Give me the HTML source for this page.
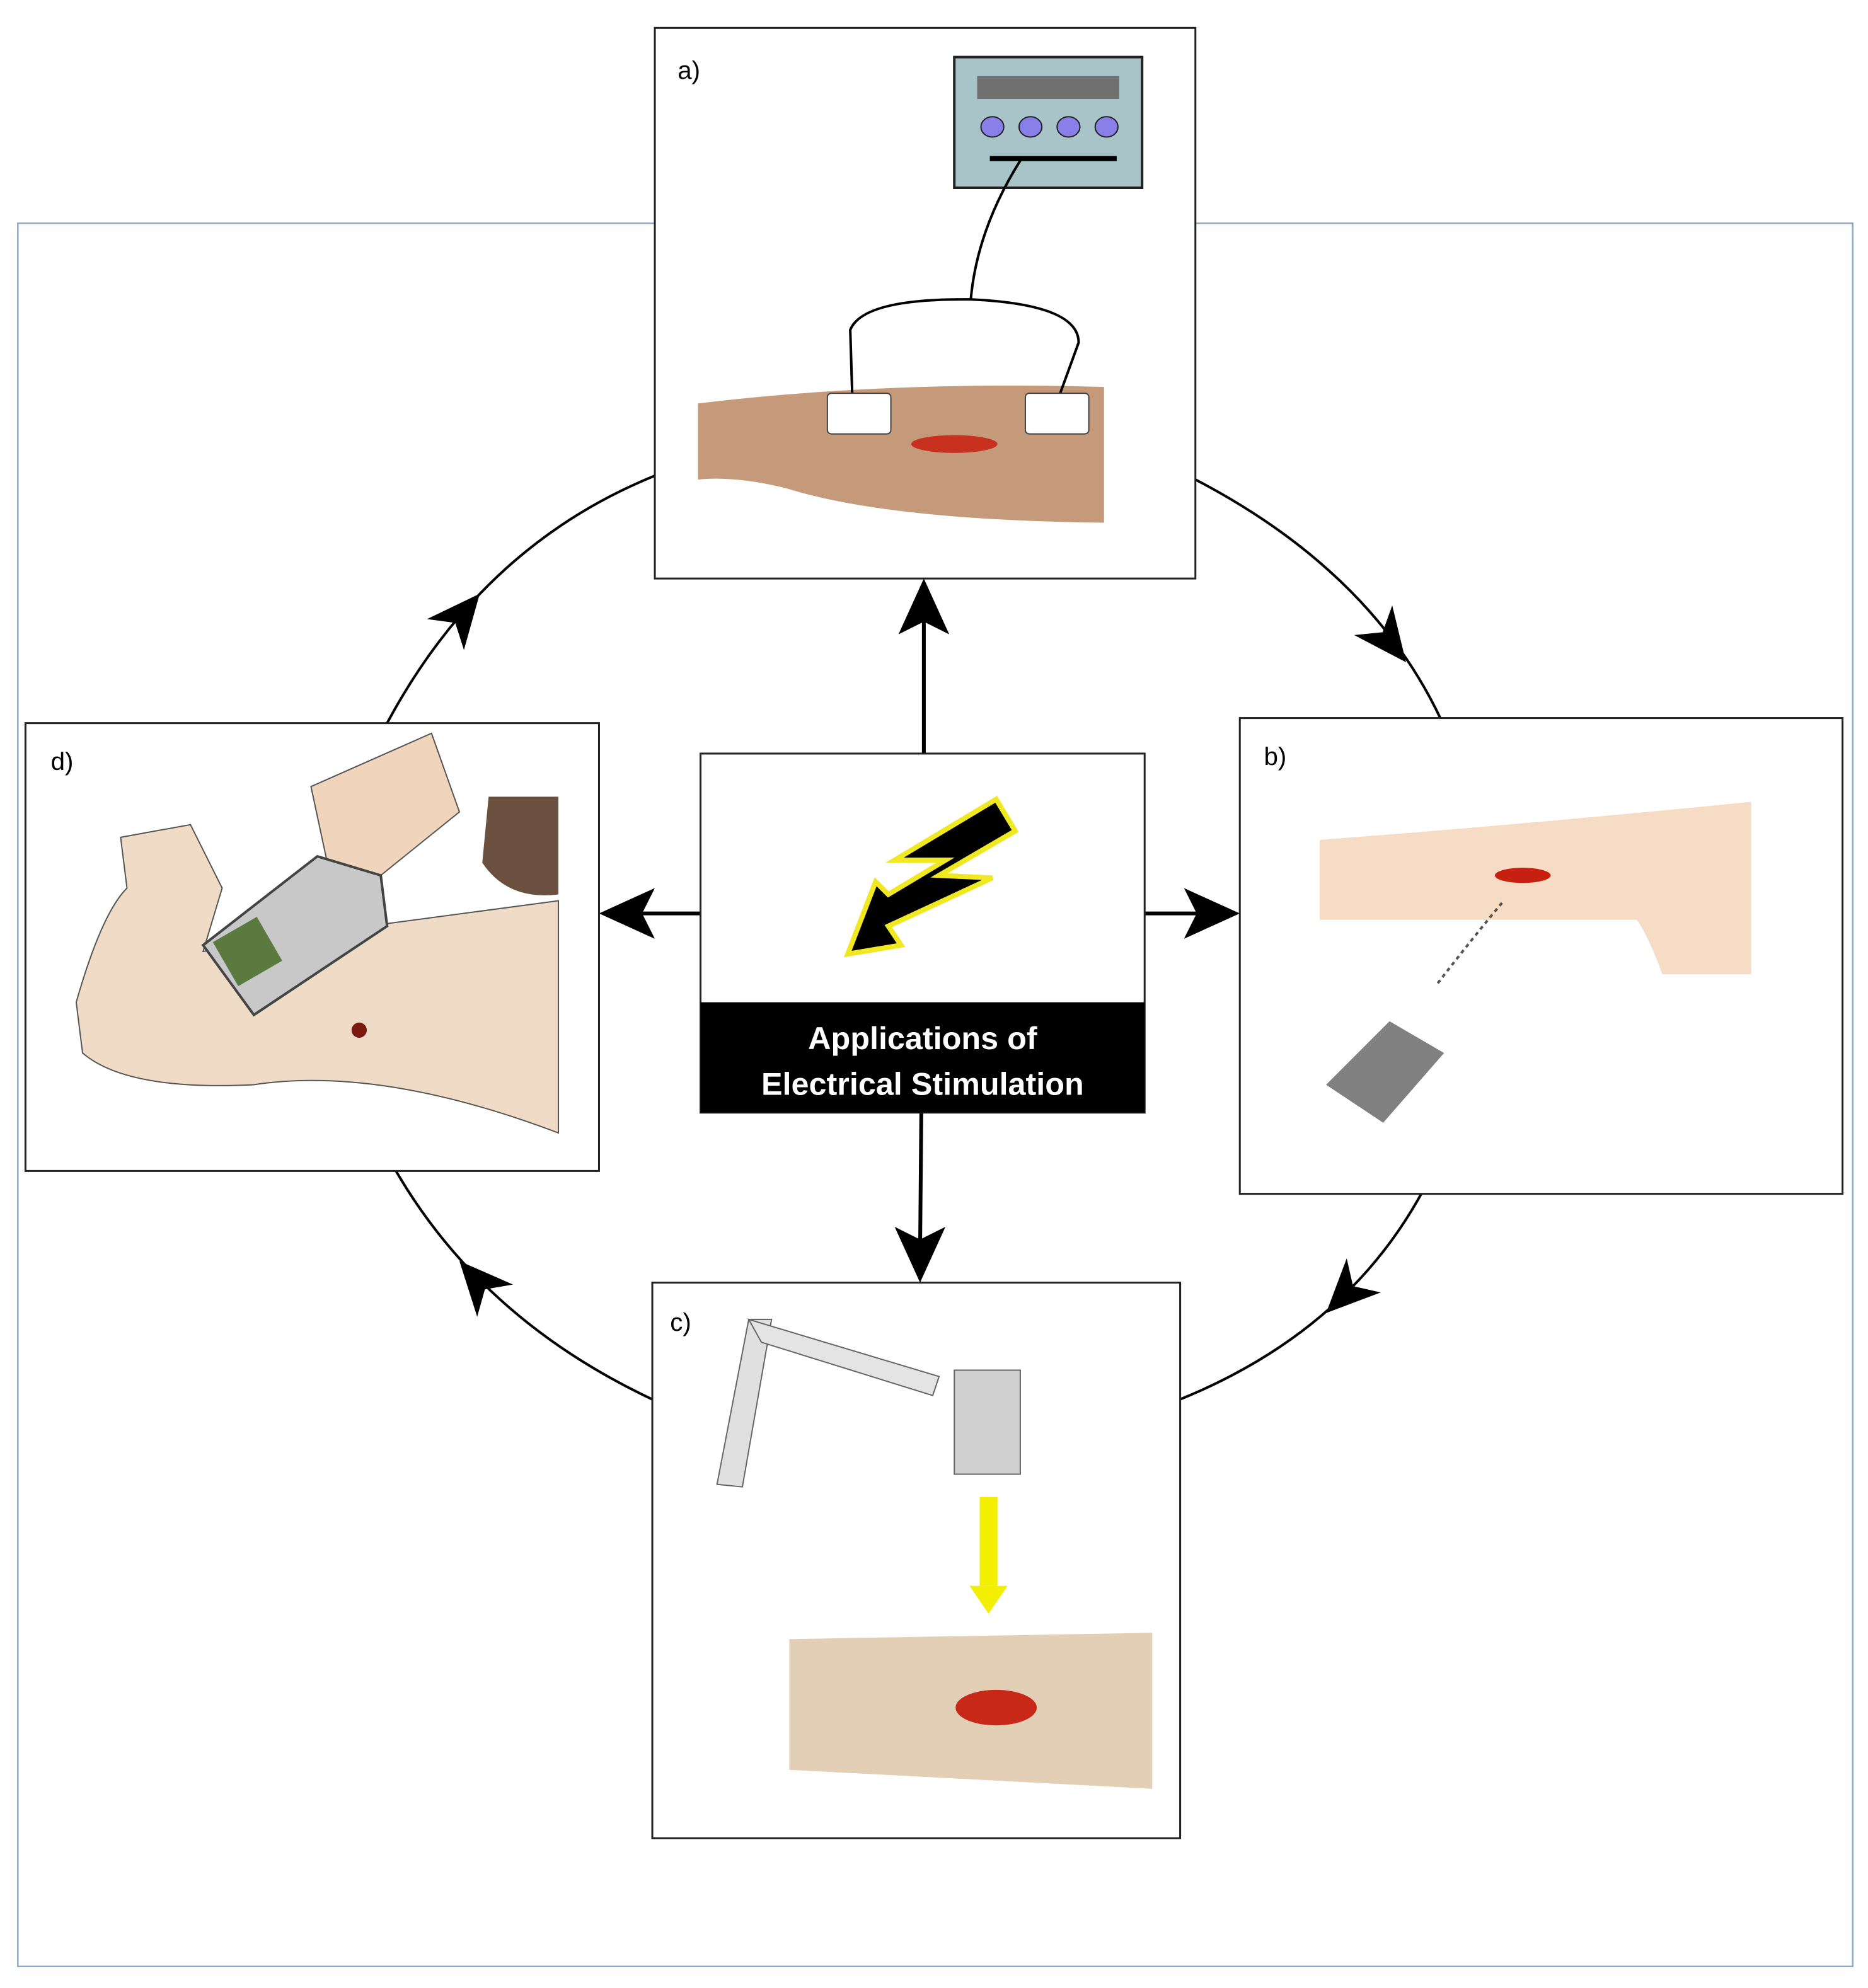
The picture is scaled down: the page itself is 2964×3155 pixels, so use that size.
<!DOCTYPE html>
<html><head><meta charset="utf-8"><style>
html,body{margin:0;padding:0;background:#fff;}
svg{display:block;}
</style></head><body>
<svg width="2964" height="3155" viewBox="0 0 1472 1567" xmlns="http://www.w3.org/2000/svg">
<rect x="14" y="176" width="1446" height="1374" fill="none" stroke="#8aa6c8" stroke-width="1.2"/>
<!-- cycle arcs -->
<g fill="none" stroke="#000" stroke-width="2">
<path d="M516,375 Q380,430 305,570"/>
<path d="M942,378 Q1080,450 1135,566"/>
<path d="M1120,941 Q1060,1050 930,1103"/>
<path d="M514,1103 Q380,1040 312,923"/>
</g>
<!-- arc arrowheads -->
<g fill="#000">
<path d="M0,0 L-42,-19 L-30,0 L-42,19 z" transform="translate(378,468) rotate(-50)"/>
<path d="M0,0 L-42,-19 L-30,0 L-42,19 z" transform="translate(1108,522) rotate(52)"/>
<path d="M0,0 L-42,-19 L-30,0 L-42,19 z" transform="translate(1045,1035) rotate(135)"/>
<path d="M0,0 L-42,-19 L-30,0 L-42,19 z" transform="translate(362,994) rotate(-132)"/>
</g>
<!-- center arrows -->
<g stroke="#000" stroke-width="3" fill="#000">
<line x1="728" y1="594" x2="728" y2="480"/>
<path d="M728,456 L748,500 L728,490 L708,500 z" stroke="none"/>
<line x1="552" y1="720" x2="496" y2="720"/>
<path d="M472,720 L516,700 L506,720 L516,740 z" stroke="none"/>
<line x1="902" y1="720" x2="955" y2="720"/>
<path d="M977,720 L933,700 L943,720 L933,740 z" stroke="none"/>
<line x1="726" y1="877" x2="725" y2="990"/>
<path d="M725,1011 L705,967 L725,977 L745,967 z" stroke="none"/>
</g>
<!-- boxes -->
<g fill="#fff" stroke="#222" stroke-width="1.5">
<rect x="516" y="22" width="426" height="434"/>
<rect x="977" y="566" width="475" height="375"/>
<rect x="514" y="1011" width="416" height="438"/>
<rect x="20" y="570" width="452" height="353"/>
<rect x="552" y="594" width="350" height="283"/>
</g>
<rect x="552" y="790" width="350" height="87" fill="#000"/>
<text x="727" y="827" font-family="Liberation Sans, sans-serif" font-size="25" font-weight="bold" fill="#fff" text-anchor="middle">Applications of</text>
<text x="727" y="863" font-family="Liberation Sans, sans-serif" font-size="25" font-weight="bold" fill="#fff" text-anchor="middle">Electrical Stimulation</text>
<!-- bolt -->
<path d="M785,630 L800,655 L740,690 L782,692 L700,730 L710,745 L668,752 L690,695 L700,705 L745,678 L705,678 L785,630 z" fill="#000" stroke="#f0e820" stroke-width="4"/>
<g font-family="Liberation Sans, sans-serif" font-size="20" fill="#000">
<text x="534" y="62">a)</text><text x="996" y="603">b)</text><text x="528" y="1049">c)</text><text x="40" y="607">d)</text>
</g>
<!-- a: device & arm -->
<rect x="752" y="45" width="148" height="103" fill="#a8c4c8" stroke="#222" stroke-width="2"/>
<rect x="770" y="60" width="112" height="18" fill="#707070"/>
<g fill="#8880e8" stroke="#222"><ellipse cx="782" cy="100" rx="9" ry="8"/><ellipse cx="812" cy="100" rx="9" ry="8"/><ellipse cx="842" cy="100" rx="9" ry="8"/><ellipse cx="872" cy="100" rx="9" ry="8"/></g>
<line x1="780" y1="125" x2="880" y2="125" stroke="#000" stroke-width="4"/>
<path d="M550,318 Q700,300 870,305 L870,412 Q700,410 620,385 Q580,375 550,378 z" fill="#c49a7a"/>
<path d="M805,125 Q770,180 765,236 Q680,235 670,260 L672,325 M765,236 Q850,240 850,270 L830,325" fill="none" stroke="#000" stroke-width="2"/>
<rect x="652" y="310" width="50" height="32" rx="3" fill="#fff" stroke="#444"/>
<rect x="808" y="310" width="50" height="32" rx="3" fill="#fff" stroke="#444"/>
<ellipse cx="752" cy="350" rx="34" ry="7" fill="#c83020"/>
<!-- b -->
<path d="M1040,662 Q1200,650 1380,632 L1380,768 L1310,768 Q1300,740 1290,725 L1040,725 z" fill="#f6dcc4"/>
<ellipse cx="1200" cy="690" rx="22" ry="6" fill="#c82010"/>
<path d="M1133,775 Q1160,740 1185,710" fill="none" stroke="#555" stroke-dasharray="3,3" stroke-width="2"/>
<path d="M1045,855 L1095,805 L1138,830 L1090,885 z" fill="#808080"/>
<!-- c -->
<path d="M565,1170 L590,1040 L608,1040 L585,1172 z" fill="#e0e0e0" stroke="#666"/>
<path d="M590,1040 L740,1085 L735,1100 L600,1058 z" fill="#e4e4e4" stroke="#666"/>
<rect x="752" y="1080" width="52" height="82" fill="#cfcfcf" stroke="#666"/>
<rect x="772" y="1180" width="14" height="70" fill="#f2f000"/>
<path d="M764,1250 L794,1250 L779,1272 z" fill="#f2f000"/>
<path d="M622,1292 L908,1287 L908,1410 L622,1395 z" fill="#e2cfb6"/>
<ellipse cx="785" cy="1346" rx="32" ry="14" fill="#c82818"/>
<!-- d -->
<path d="M60,790 Q80,720 100,700 L95,660 L150,650 L175,700 L160,750 L290,730 L440,710 L440,893 Q300,840 200,855 Q100,860 65,830 z" fill="#f0dcc6" stroke="#555"/>
<path d="M245,620 L340,578 L362,640 L300,690 L260,690 z" fill="#f0d4bc" stroke="#555"/>
<path d="M160,745 L250,675 L300,690 L305,730 L200,800 z" fill="#c8c8c8" stroke="#444" stroke-width="2"/>
<rect x="175" y="730" width="40" height="40" fill="#5a7a40" transform="rotate(-30 195 750)"/>
<path d="M385,628 L440,628 L440,705 Q400,710 380,680 z" fill="#6b5040"/>
<ellipse cx="283" cy="812" rx="6" ry="6" fill="#7a1a10"/>
</svg>
</body></html>
